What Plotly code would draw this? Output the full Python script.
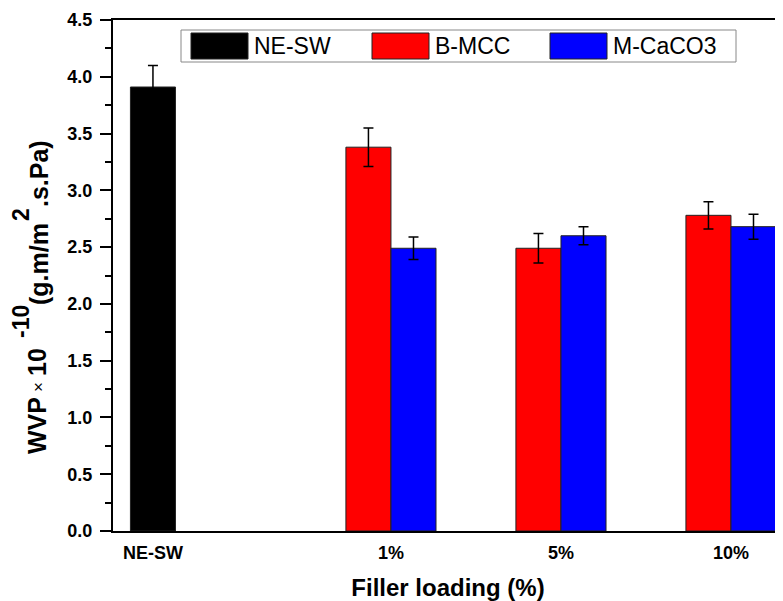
import plotly.graph_objects as go

# ---- data ----
categories = ["NE-SW", "1%", "5%", "10%"]
series_names = ["NE-SW", "B-MCC", "M-CaCO3"]
ne_sw_vals = [3.91]
ne_sw_err = [0.19]
b_mcc_vals = [3.38, 2.49, 2.78]
b_mcc_err = [0.17, 0.13, 0.12]
m_caco3_vals = [2.49, 2.60, 2.68]
m_caco3_err = [0.10, 0.08, 0.11]
y_ticks = [0.0, 0.5, 1.0, 1.5, 2.0, 2.5, 3.0, 3.5, 4.0, 4.5]
x_title = "Filler loading (%)"
# y-axis title pieces: (text, is_superscript)
y_title_parts = [("WVP", False), ("×", False), ("10", False), ("-10", True),
                 ("(g.m/m", False), ("2", True), (".s.Pa)", False)]

# ---- layout constants ----
CAT_POS = [-0.4, 1, 2, 3]
BAR_W = 0.265
COLORS = ["#000000", "#ff0000", "#0000ff"]
FONT = "Liberation Sans, Arial, sans-serif"

OFF = 8  # page body margin
W, H = 783 - OFF, 601 - OFF
# target plot area in window pixels: x 113..783, y 20..531
ML, MR, MT, MB = 113 - OFF, 0, 20 - OFF, H - (531 - OFF)

fig = go.Figure()

err_style = dict(type="data", visible=True, color="black", thickness=1.5, width=5)
line_style = dict(color="#222222", width=1)

fig.add_trace(go.Bar(
    name=series_names[0], x=CAT_POS[:1], y=ne_sw_vals,
    width=BAR_W, offset=-BAR_W / 2,
    marker=dict(color=COLORS[0], line=line_style),
    error_y=dict(array=ne_sw_err, **err_style),
))
fig.add_trace(go.Bar(
    name=series_names[1], x=CAT_POS[1:], y=b_mcc_vals,
    width=BAR_W, offset=-BAR_W,
    marker=dict(color=COLORS[1], line=line_style),
    error_y=dict(array=b_mcc_err, **err_style),
))
fig.add_trace(go.Bar(
    name=series_names[2], x=CAT_POS[1:], y=m_caco3_vals,
    width=BAR_W, offset=0,
    marker=dict(color=COLORS[2], line=line_style),
    error_y=dict(array=m_caco3_err, **err_style),
))

# ---- helpers: window pixels -> paper coords ----
pw, ph = W - ML - MR, H - MT - MB
def px_x(p):
    return (p - OFF - ML) / pw
def px_y(p):
    return 1 - (p - OFF - MT) / ph

# ---- custom legend ----
shapes = [dict(type="rect", xref="paper", yref="paper",
               x0=px_x(181), x1=px_x(736), y0=px_y(62), y1=px_y(30),
               line=dict(color="#888888", width=1), fillcolor="white", layer="above")]
annotations = []
sw_left = [191, 372, 550]
for i, name in enumerate(series_names):
    shapes.append(dict(type="rect", xref="paper", yref="paper",
                       x0=px_x(sw_left[i]), x1=px_x(sw_left[i] + 57),
                       y0=px_y(59), y1=px_y(33),
                       line=dict(color="#222222", width=1), fillcolor=COLORS[i], layer="above"))
    annotations.append(dict(xref="paper", yref="paper", x=px_x(sw_left[i] + 61), y=px_y(46),
                            text=name, showarrow=False, xanchor="left", yanchor="middle",
                            font=dict(family=FONT, size=23, color="black")))

# ---- y-axis title built from rotated pieces (Origin-style high superscripts) ----
part_centers_y = [426, 387, 362, 322, 264, 215, 174]
part_centers_x = [37, 38, 37, 21, 39, 21, 39]
for (txt, is_sup), yc, xc in zip(y_title_parts, part_centers_y, part_centers_x):
    if txt == "×":
        text, size = txt, 17
    elif is_sup:
        text, size = "<b>%s</b>" % txt, 23
    else:
        text, size = "<b>%s</b>" % txt, 25
    annotations.append(dict(xref="paper", yref="paper", x=px_x(xc), y=px_y(yc),
                            text=text, textangle=-90, showarrow=False,
                            xanchor="center", yanchor="middle",
                            font=dict(family=FONT, size=size, color="black")))

fig.update_layout(
    width=W, height=H,
    margin=dict(l=ML, r=MR, t=MT, b=MB),
    paper_bgcolor="white", plot_bgcolor="white",
    barmode="overlay",
    showlegend=False,
    font=dict(family=FONT, color="black"),
    shapes=shapes, annotations=annotations,
    xaxis=dict(
        range=[-0.635, 3.306],
        tickvals=CAT_POS, ticktext=["<b>%s</b>" % c for c in categories],
        tickfont=dict(size=18, family=FONT), ticks="", ticklabelstandoff=4,
        showline=True, linecolor="black", linewidth=2, mirror=True,
        showgrid=False, zeroline=False,
        title=dict(text="<b>%s</b>" % x_title, font=dict(size=24, family=FONT), standoff=18),
    ),
    yaxis=dict(
        range=[0, 4.5],
        tickvals=y_ticks, ticktext=["<b>%.1f</b>" % v for v in y_ticks],
        tickfont=dict(size=18, family=FONT), ticklabelstandoff=4,
        ticks="outside", ticklen=11, tickwidth=1.5, tickcolor="black",
        minor=dict(dtick=0.25, ticks="outside", ticklen=6, tickwidth=1.5, tickcolor="black"),
        showline=True, linecolor="black", linewidth=2, mirror=False,
        showgrid=False, zeroline=False,
    ),
)

fig.write_html("out.html")
